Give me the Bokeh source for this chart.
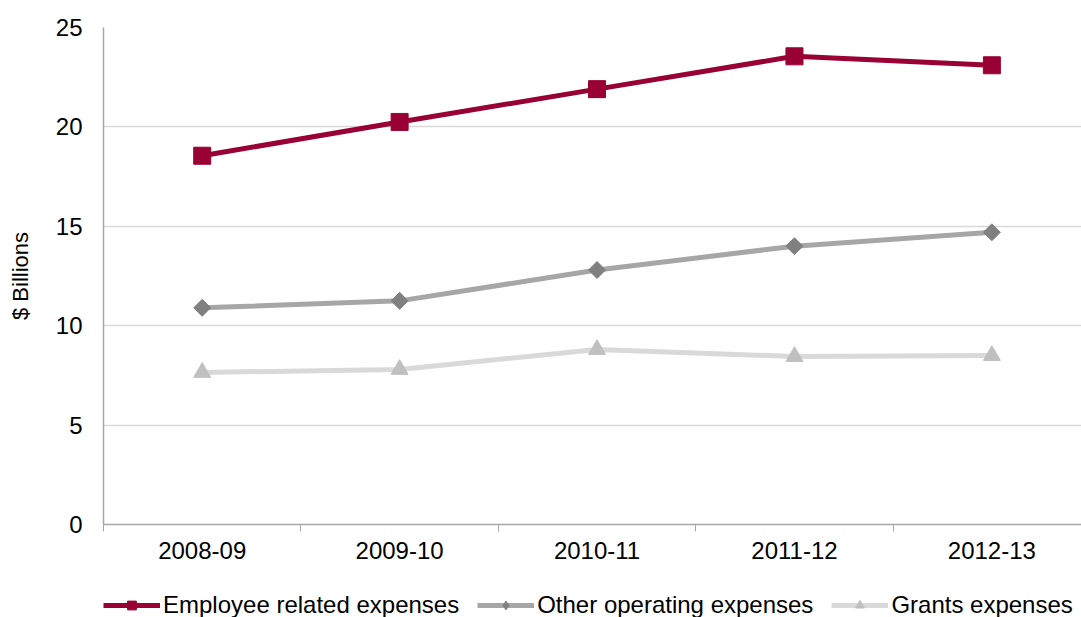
import math
from bokeh.plotting import figure
from bokeh.layouts import column
from bokeh.models import Range1d, FixedTicker, Legend, LegendItem
from bokeh.embed import file_html
from bokeh.resources import INLINE

categories = ["2008-09", "2009-10", "2010-11", "2011-12", "2012-13"]
employee = [18.55, 20.25, 21.9, 23.55, 23.1]
other = [10.9, 11.25, 12.8, 14.0, 14.7]
grants = [7.65, 7.8, 8.8, 8.45, 8.5]
series_names = ["Employee related expenses", "Other operating expenses", "Grants expenses"]
y_ticks = [0, 5, 10, 15, 20, 25]

xs = list(range(len(categories)))
FONT = "Liberation Sans"

p = figure(frame_width=978, frame_height=497, output_backend="svg", toolbar_location=None,
           x_range=Range1d(-0.5, 4.454), y_range=Range1d(0, 25),
           min_border_left=103, min_border_top=27, min_border_right=0,
           min_border_bottom=51)
p.outline_line_color = None
p.background_fill_color = "white"

p.xaxis.ticker = FixedTicker(ticks=xs, minor_ticks=[-0.5, 0.5, 1.5, 2.5, 3.5, 4.5])
p.xaxis.major_label_overrides = {i: c for i, c in enumerate(categories)}
p.xaxis.major_tick_out = 0
p.xaxis.major_tick_in = 0
p.xaxis.minor_tick_out = 7
p.xaxis.minor_tick_in = 0
p.xaxis.minor_tick_line_color = "#a6a6a6"
p.xaxis.axis_line_color = "#a6a6a6"
p.xaxis.axis_line_width = 1.5
p.xaxis.major_label_text_font = FONT
p.xaxis.major_label_text_font_size = "24px"
p.xaxis.major_label_text_color = "black"
p.xaxis.major_label_standoff = 10
p.xaxis.axis_label_standoff = 0

p.yaxis.ticker = FixedTicker(ticks=y_ticks)
p.yaxis.minor_tick_line_color = None
p.yaxis.major_tick_out = 0
p.yaxis.major_tick_in = 0
p.yaxis.axis_line_color = "#a6a6a6"
p.yaxis.axis_line_width = 1.5
p.yaxis.major_label_text_font = FONT
p.yaxis.major_label_text_font_size = "24px"
p.yaxis.major_label_text_color = "black"
p.yaxis.major_label_standoff = 21
p.yaxis.axis_label = "$ Billions"
p.yaxis.axis_label_text_font = FONT
p.yaxis.axis_label_text_font_size = "22px"
p.yaxis.axis_label_text_font_style = "normal"
p.yaxis.axis_label_text_color = "black"
p.yaxis.axis_label_standoff = 20

p.xgrid.grid_line_color = None
p.ygrid.ticker = FixedTicker(ticks=y_ticks)
p.ygrid.grid_line_color = "#d9d9d9"
p.ygrid.grid_line_width = 1.5

styles = [
    dict(color="#990033", mcolor="#990033", marker="square", size=17, angle=0,
         lmarker="square", lsize=17),
    dict(color="#a6a6a6", mcolor="#808080", marker="square", size=12, angle=math.pi / 4,
         lmarker="diamond", lsize=17),
    dict(color="#d9d9d9", mcolor="#c0c0c0", marker="triangle", size=17, angle=0,
         lmarker="triangle", lsize=17),
]
all_series = [employee, other, grants]

for vals, st in zip(all_series, styles):
    p.line(xs, vals, line_color=st["color"], line_width=5)
    p.scatter(xs, vals, marker=st["marker"], size=st["size"], angle=st["angle"],
              fill_color=st["mcolor"], line_color=st["mcolor"])

# legend strip below the chart (its series renderers lie outside its visible range)
lg = figure(width=1081, height=50, output_backend="svg", toolbar_location=None,
            x_range=Range1d(-0.5, 4.454), y_range=Range1d(100, 101),
            x_axis_type=None, y_axis_type=None,
            min_border_left=0, min_border_right=0, min_border_top=0, min_border_bottom=0)
lg.outline_line_color = None
lg.grid.visible = False

items = []
for name, vals, st in zip(series_names, all_series, styles):
    lr = lg.line(xs, vals, line_color=st["color"], line_width=5)
    mr = lg.scatter(xs, vals, marker=st["lmarker"], size=st["lsize"],
                    fill_color=st["mcolor"], line_color=st["mcolor"])
    items.append(LegendItem(label=name, renderers=[lr, mr]))

legend = Legend(items=items, orientation="horizontal", location=(0, 6))
legend.label_text_font = FONT
legend.label_text_font_size = "24px"
legend.label_text_color = "black"
legend.glyph_width = 57
legend.glyph_height = 22
legend.label_standoff = 3
legend.spacing = 18
legend.padding = 0
legend.margin = 0
legend.border_line_color = None
legend.background_fill_alpha = 0
lg.add_layout(legend, "center")

layout = column(p, lg, spacing=0)
open("out.html", "w").write(file_html(layout, INLINE))
